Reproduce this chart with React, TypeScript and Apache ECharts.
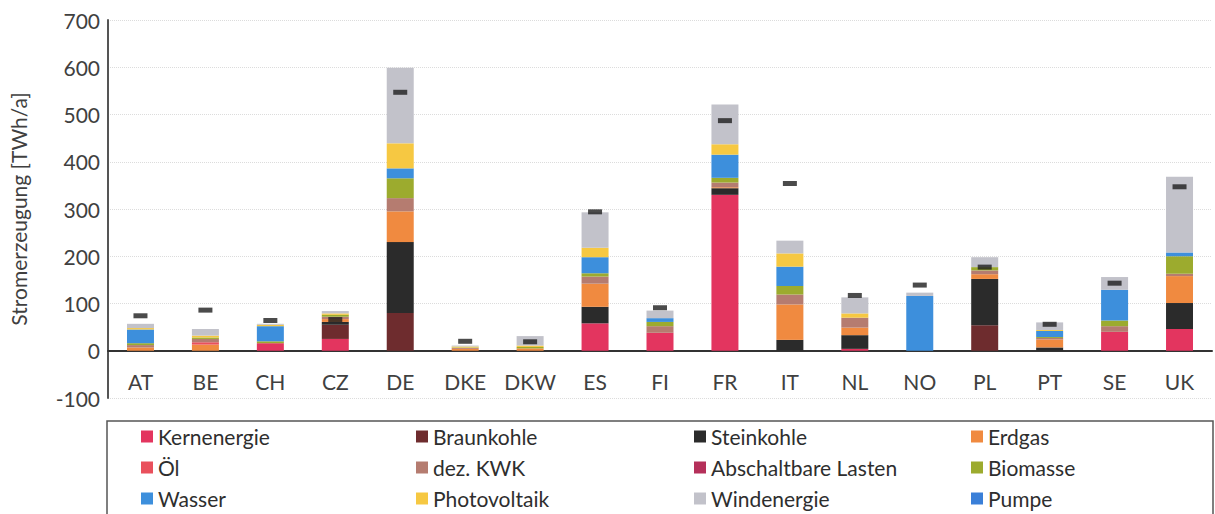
import React, { useEffect, useRef } from "react";
import * as echarts from "echarts";

const countries = ["AT", "BE", "CH", "CZ", "DE", "DKE", "DKW", "ES", "FI", "FR", "IT", "NL", "NO", "PL", "PT", "SE", "UK"];

const kernenergie = [0, 0, 16, 25, 0, 0, 0, 58, 38, 330, 0, 4, 0, 0, 0, 40, 46];
const braunkohle = [0, 0, 0, 30, 80, 0, 0, 0, 0, 0, 0, 0, 0, 54, 0, 0, 0];
const steinkohle = [0, 0, 0, 6, 150, 0, 0, 35, 0, 14, 23, 29, 0, 98, 7, 0, 55];
const erdgas = [7, 13, 0, 6, 65, 4, 5, 49, 0, 2, 75, 16, 0, 10, 17, 0, 57];
const oel = [0, 5, 0, 0, 0, 0, 0, 0, 0, 0, 0, 0, 0, 0, 0, 0, 0];
const dezKwk = [5, 7, 0, 5, 28, 2, 0, 15, 14, 10, 21, 21, 0, 8, 3, 12, 5];
const abschaltbar = [0, 0, 0, 0, 0, 0, 0, 0, 0, 0, 0, 0, 0, 0, 0, 0, 0];
const biomasse = [4, 3, 4, 4, 42, 1, 3, 7, 9, 10, 18, 0, 0, 7, 2, 12, 37];
const wasser = [29, 0, 32, 0, 21, 0, 0, 34, 8, 49, 41, 0, 116, 0, 13, 65, 8];
const photovoltaik = [3, 4, 3, 3, 53, 2, 3, 20, 0, 22, 28, 9, 0, 0, 2, 0, 0];
const windenergie = [9, 14, 2, 5, 160, 2, 20, 75, 16, 84, 27, 34, 7, 21, 16, 27, 160];
const pumpe = [0, 0, 0, 0, 0, 0, 0, 0, 0, 0, 0, 0, 0, 0, 0, 0, 0];
const last = [74, 86, 64, 66, 547, 20, 19, 294, 91, 487, 354, 117, 139, 177, 56, 143, 347];

const yTicks = { min: -100, max: 700, interval: 100 };

const seriesDefs = [
  { name: "Kernenergie", data: kernenergie, color: "#e3355f" },
  { name: "Braunkohle", data: braunkohle, color: "#6e2c2e" },
  { name: "Steinkohle", data: steinkohle, color: "#2b2b2b" },
  { name: "Erdgas", data: erdgas, color: "#f08a40" },
  { name: "Öl", data: oel, color: "#e9505c" },
  { name: "dez. KWK", data: dezKwk, color: "#b57c70" },
  { name: "Abschaltbare Lasten", data: abschaltbar, color: "#b5305a" },
  { name: "Biomasse", data: biomasse, color: "#9cab2e" },
  { name: "Wasser", data: wasser, color: "#3d8fdc" },
  { name: "Photovoltaik", data: photovoltaik, color: "#f6c842" },
  { name: "Windenergie", data: windenergie, color: "#c2c2ca" },
  { name: "Pumpe", data: pumpe, color: "#3a7fd8" },
];

const legendColumns = [
  ["Kernenergie", "Öl", "Wasser"],
  ["Braunkohle", "dez. KWK", "Photovoltaik"],
  ["Steinkohle", "Abschaltbare Lasten", "Windenergie"],
  ["Erdgas", "Biomasse", "Pumpe"],
];
const legendLeft = [141, 416, 694, 971];

const FONT = "Lato, 'Open Sans', sans-serif";

export default function App() {
  const ref = useRef<HTMLDivElement>(null);
  useEffect(() => {
    document.body.style.margin = "0";
    if (!ref.current) return;
    const chart = echarts.init(ref.current, undefined, { renderer: "svg" });
    const gridHeight = 378;
    const zeroOffset = (gridHeight * (0 - yTicks.min)) / (yTicks.max - yTicks.min);
    chart.setOption({
      animation: false,
      backgroundColor: "#ffffff",
      textStyle: { fontFamily: FONT },
      grid: { left: 107, right: 3, top: 20, height: gridHeight },
      legend: legendColumns.map((col, i) => ({
        orient: "vertical",
        left: legendLeft[i],
        top: 426,
        height: 90,
        padding: 0,
        itemGap: 10,
        itemWidth: 12,
        itemHeight: 12,
        icon: "rect",
        data: col,
        selectedMode: false,
        textStyle: { fontSize: 21, color: "#2e2e2e", fontFamily: FONT },
      })),
      xAxis: {
        type: "category",
        data: countries,
        offset: -zeroOffset,
        axisLine: { show: true, onZero: false, lineStyle: { color: "#333", width: 2 } },
        axisTick: { show: false },
        axisLabel: { fontSize: 21, color: "#404040", margin: 20, interval: 0, fontFamily: FONT },
        splitLine: { show: false },
      },
      yAxis: {
        type: "value",
        min: yTicks.min,
        max: yTicks.max,
        interval: yTicks.interval,
        name: "Stromerzeugung [TWh/a]",
        nameLocation: "middle",
        nameRotate: 90,
        nameGap: 79,
        nameTextStyle: { fontSize: 21, color: "#404040", fontFamily: FONT },
        axisLine: { show: true, lineStyle: { color: "#555", width: 2 } },
        axisTick: { show: false },
        axisLabel: { fontSize: 21, color: "#404040", margin: 8, fontFamily: FONT },
        splitLine: { show: true, lineStyle: { color: "#dcdcdc", type: "dotted", width: 1 } },
      },
      graphic: [
        {
          type: "rect",
          shape: { x: 107, y: 421, width: 1106, height: 100 },
          style: { fill: "none", stroke: "#555", lineWidth: 1.5 },
          silent: true,
        },
      ],
      series: [
        ...seriesDefs.map((s) => ({
          name: s.name,
          type: "bar",
          stack: "total",
          barWidth: 27,
          data: s.data,
          itemStyle: { color: s.color },
        })),
        {
          name: "Last",
          type: "scatter",
          data: last,
          symbol: "rect",
          symbolSize: [14, 5],
          itemStyle: { color: "#1e1e1e" },
          z: 5,
        },
      ],
    });
    return () => chart.dispose();
  }, []);
  return <div ref={ref} style={{ width: 1215, height: 514 }} />;
}
